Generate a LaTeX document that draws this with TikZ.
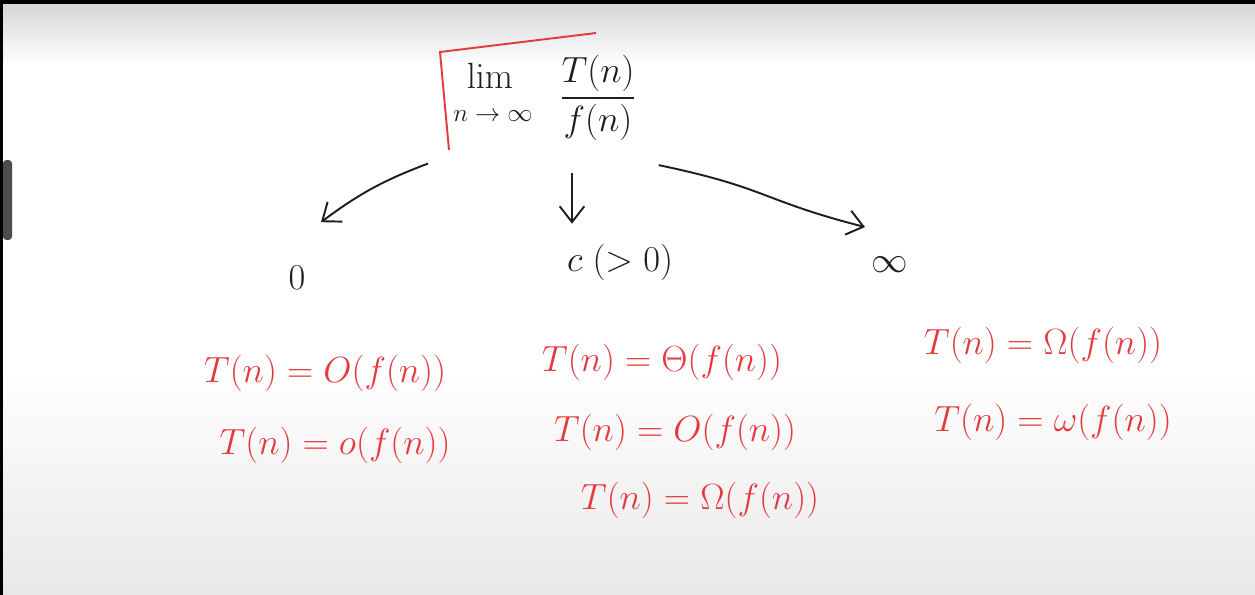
\documentclass[tikz,border=0pt]{standalone}
\usepackage{amsmath}
\usepackage{amssymb}
\usetikzlibrary{arrows.meta,calc}

\definecolor{penred}{RGB}{228,58,62}
\definecolor{penblack}{RGB}{30,30,30}

\begin{document}
\begin{tikzpicture}[
    x=0.02cm, y=-0.02cm,
    hand/.style={draw=none, text=penblack, inner sep=1pt, font=\fontsize{21}{25}\selectfont},
    small/.style={draw=none, text=penblack, inner sep=1pt, font=\fontsize{15}{18}\selectfont},
    redeq/.style={draw=none, text=penred, inner sep=1pt, font=\fontsize{19.5}{24}\selectfont},
    arr/.style={draw=penblack, line width=1.1pt, -{Straight Barb[length=9pt,width=14pt]}}
]
% board background
\useasboundingbox (0,0) rectangle (1255,595);
\fill[white] (0,0) rectangle (1255,595);
\shade[top color=black!16, bottom color=white] (0,4) rectangle (1255,65);
\shade[top color=white, bottom color=black!9] (0,370) rectangle (1255,595);
\fill[black] (0,0) rectangle (1255,4);
\fill[black] (0,0) rectangle (3,595);
\fill[black!70, rounded corners=2pt] (3,160) rectangle (12,240);

% red bracket
\draw[penred, line width=1.1pt] (449,150) -- (440,52) -- (596,33);

% limit
\node[hand] (lim) at (490,76) {$\lim$};
\node[small] (sub) at (493,116) {$n\to\infty$};
\node[hand] (frac) at (598,98) {$\displaystyle\frac{T(n)}{f(n)}$};

% the three cases
\node[hand] (zero) at (297,278) {$0$};
\node[hand] (const) at (620,262) {$c\;(>0)$};
\node[hand] (inf) at (890,265) {$\infty$};

\draw[arr] ($(sub.south)+(-65,40)$) to[bend right=8] ($(zero.north)+(24,-42)$);
\draw[arr] ($(frac.south)+(-26,30)$) -- ($(const.north)+(-48,-18)$);
\draw[arr] ($(frac.south east)+(20,22)$) .. controls ($(frac.south east)+(130,45)$) and ($(inf.north)+(-130,-55)$) .. ($(inf.north)+(-25,-28)$);

% notations
\node[redeq] (lo) at (325,373) {$T(n) = O(f(n))$};
\node[redeq] (llo) at (335,445) {$T(n) = o(f(n))$};
\node[redeq] (mth) at (662,362) {$T(n) = \Theta(f(n))$};
\node[redeq] (mo) at (675,432) {$T(n) = O(f(n))$};
\node[redeq] (mom) at (700,500) {$T(n) = \Omega(f(n))$};
\node[redeq] (rom) at (1043,345) {$T(n) = \Omega(f(n))$};
\node[redeq] (rlom) at (1053,422) {$T(n) = \omega(f(n))$};
\end{tikzpicture}
\end{document}
